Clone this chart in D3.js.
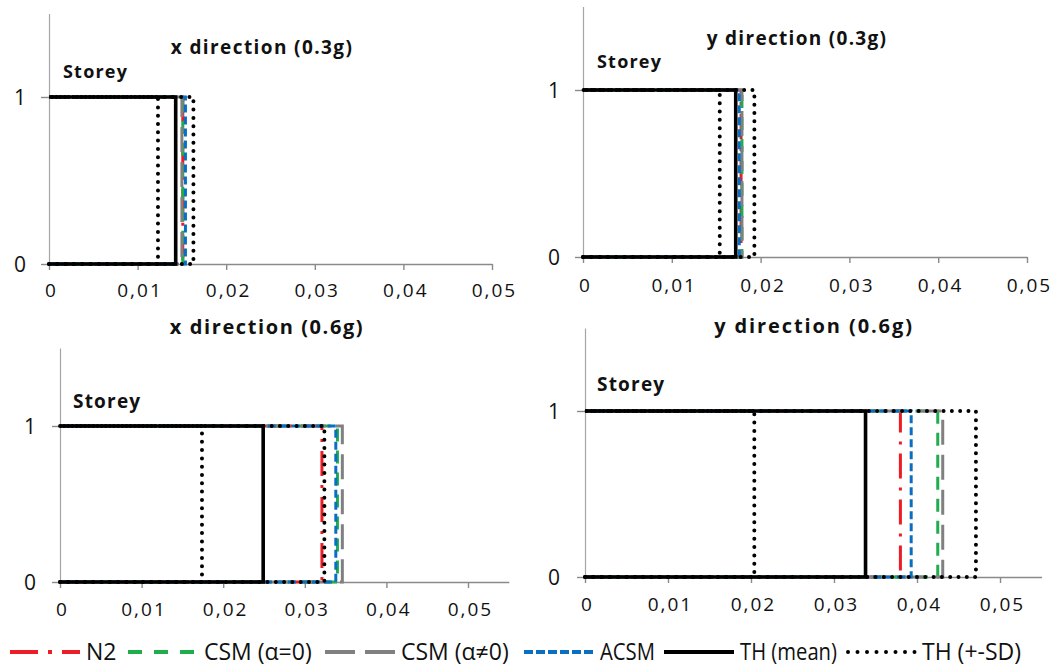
<!DOCTYPE html>
<html>
<head>
<meta charset="utf-8">
<script src="https://cdn.jsdelivr.net/npm/d3@7"></script>
<style>
  body { margin: 0; background: #fff; }
  svg { display: block; font-family: "Open Sans", sans-serif; }
</style>
</head>
<body>
<div id="chart"></div>
<script>
// panel titles and axis labels
const panelTitles = ['x direction (0.3g)', 'y direction (0.3g)', 'x direction (0.6g)', 'y direction (0.6g)'];
const xTicks = [0, 0.01, 0.02, 0.03, 0.04, 0.05];
const xTickLabels = ['0', '0,01', '0,02', '0,03', '0,04', '0,05'];
const yTicks = [0, 1];
const xMax = [0.05, 0.05, 0.055, 0.055];
const yMax = 1.5;

// drift of the single storey, one value per panel
const n2Values = [0.0151, 0.0178, 0.0321, 0.0380];
const csm0Values = [0.0151, 0.0179, 0.0340, 0.0425];
const csmAValues = [0.0150, 0.0179, 0.0346, 0.0431];
const acsmValues = [0.0154, 0.0176, 0.0338, 0.0393];
const thMeanValues = [0.0143, 0.0172, 0.0249, 0.0338];
const thMinusValues = [0.0123, 0.0154, 0.0174, 0.0204];
const thPlusValues = [0.0163, 0.0193, 0.0324, 0.0471];

const seriesNames = ['N2', 'CSM (α=0)', 'CSM (α≠0)', 'ACSM', 'TH (mean)', 'TH (+-SD)'];

// styles (legend order), TH(+-SD) is drawn twice
const styles = [
    { color: '#ee1c25', dash: '25,9,3,9', legendDash: '28,10,4,10', width: 3, cap: 'butt' },
    { color: '#1fae4b', dash: '13,9', legendDash: '14,12', width: 3, cap: 'butt' },
    { color: '#808080', dash: '25,10', legendDash: '30,10', width: 3, cap: 'butt' },
    { color: '#0a6fc2', dash: '8,4', legendDash: '9,3', width: 3, cap: 'butt' },
    { color: '#000000', dash: null, legendDash: null, width: 3.6, cap: 'butt' },
    { color: '#000000', dash: '0,8.3', legendDash: '0,9.5', width: 4, cap: 'round' }
];

// legend sample start positions, right edge of the legend
const legendX = [10, 128, 325, 524, 664, 846];
const legendEnd = 1064;

// panel placement in pixels: y axis x, x of 0.05, y of 0, y of 1
const panels = [
    { x0: 49, x5: 492, y0: 264, y1: 97, titleX: 262, titleY: 54, storeyX: 63, storeyY: 78, tickY: 297, yLabX: 26, fs: 19, ls: 1.4 },
    { x0: 583, x5: 1027, y0: 257, y1: 90, titleX: 797, titleY: 45, storeyX: 597, storeyY: 68, tickY: 292, yLabX: 560, fs: 19, ls: 1.3 },
    { x0: 60, x5: 468, y0: 582, y1: 426, titleX: 267, titleY: 334, storeyX: 73, storeyY: 408, tickY: 616, yLabX: 36, fs: 20, ls: 1.6 },
    { x0: 585, x5: 1000, y0: 577, y1: 411, titleX: 814, titleY: 333, storeyX: 597, storeyY: 391, tickY: 611, yLabX: 560, fs: 20, ls: 1.9 }
];

const width = 1057, height = 666;
const svg = d3.select('#chart').append('svg')
    .attr('width', width)
    .attr('height', height);
svg.append('rect').attr('width', width).attr('height', height).attr('fill', '#fff');

panels.forEach((p, i) => {
    const xScale = d3.scaleLinear().domain([0, 0.05]).range([p.x0, p.x5]);
    const yScale = d3.scaleLinear().domain([0, 1]).range([p.y0, p.y1]);
    const g = svg.append('g');

    // x axis
    const xAxis = d3.axisBottom(xScale.copy().domain([0, xMax[i]]).range([p.x0, xScale(xMax[i])]))
        .tickValues(xTicks)
        .tickFormat((d, k) => xTickLabels[k])
        .tickSizeInner(6)
        .tickSizeOuter(0);
    const gx = g.append('g')
        .attr('transform', `translate(0,${p.y0})`)
        .call(xAxis);
    gx.select('.domain').attr('stroke', '#8a8a8a').attr('stroke-width', 1.4);
    gx.selectAll('.tick line').attr('stroke', '#8a8a8a').attr('stroke-width', 1.4);
    gx.selectAll('.tick text')
        .attr('y', p.tickY - p.y0).attr('dy', null)
        .attr('dx', '0.1em')
        .attr('font-family', 'Open Sans, sans-serif')
        .attr('font-size', 19)
        .attr('letter-spacing', 2)
        .attr('fill', '#111');

    // y axis
    const yAxis = d3.axisLeft(yScale.copy().domain([0, yMax]).range([p.y0, yScale(yMax)]))
        .tickValues(yTicks)
        .tickFormat(d3.format('d'))
        .tickSizeInner(8)
        .tickSizeOuter(0);
    const gy = g.append('g')
        .attr('transform', `translate(${p.x0},0)`)
        .call(yAxis);
    gy.select('.domain').attr('stroke', '#a6a6a6').attr('stroke-width', 1.2);
    gy.selectAll('.tick line').attr('stroke', '#8a8a8a').attr('stroke-width', 1.4);
    gy.selectAll('.tick text')
        .attr('x', p.yLabX - p.x0)
        .attr('dy', '0.36em')
        .attr('text-anchor', 'end')
        .attr('font-family', 'Open Sans, sans-serif')
        .attr('font-size', 21)
        .attr('fill', '#111');

    // step lines: (0,0) -> (v,0) -> (v,1) -> (0,1)
    const values = [n2Values[i], csm0Values[i], csmAValues[i], acsmValues[i], thMeanValues[i], thMinusValues[i], thPlusValues[i]];
    const line = d3.line().x(d => xScale(d[0])).y(d => yScale(d[1]));
    values.forEach((v, k) => {
        const s = styles[Math.min(k, 5)];
        g.append('path')
            .attr('d', line([[0, 0], [v, 0], [v, 1], [0, 1]]))
            .attr('fill', 'none')
            .attr('stroke', s.color)
            .attr('stroke-width', s.width)
            .attr('stroke-linecap', s.cap)
            .attr('stroke-dasharray', s.dash);
    });

    // title and "Storey"
    g.append('text')
        .attr('x', p.titleX).attr('y', p.titleY)
        .attr('text-anchor', 'middle')
        .attr('font-weight', 'bold')
        .attr('font-size', p.fs)
        .attr('letter-spacing', p.ls)
        .attr('fill', '#111')
        .text(panelTitles[i]);
    g.append('text')
        .attr('x', p.storeyX).attr('y', p.storeyY)
        .attr('font-weight', 'bold')
        .attr('font-size', p.fs - 1)
        .attr('letter-spacing', 1.2)
        .attr('fill', '#111')
        .text('Storey');
});

// legend, labels squeezed only when they would run into the next sample
const legend = svg.append('g').attr('transform', 'translate(0,652)');
seriesNames.forEach((name, k) => {
    const s = styles[k];
    legend.append('line')
        .attr('x1', legendX[k] + (k === 5 ? 2 : 0)).attr('x2', legendX[k] + 70)
        .attr('y1', 0).attr('y2', 0)
        .attr('stroke', s.color)
        .attr('stroke-width', 4)
        .attr('stroke-linecap', s.cap)
        .attr('stroke-dasharray', s.legendDash);
    const tx = legendX[k] + 76;
    const room = (k < 5 ? legendX[k + 1] : legendEnd) - tx - 9;
    const t = legend.append('text')
        .attr('x', tx).attr('y', 0)
        .attr('dy', '0.36em')
        .attr('font-size', 23)
        .attr('fill', '#111')
        .text(name);
    if (t.node().getComputedTextLength() > room) {
        t.attr('textLength', room).attr('lengthAdjust', 'spacingAndGlyphs');
    }
});
</script>
</body>
</html>
